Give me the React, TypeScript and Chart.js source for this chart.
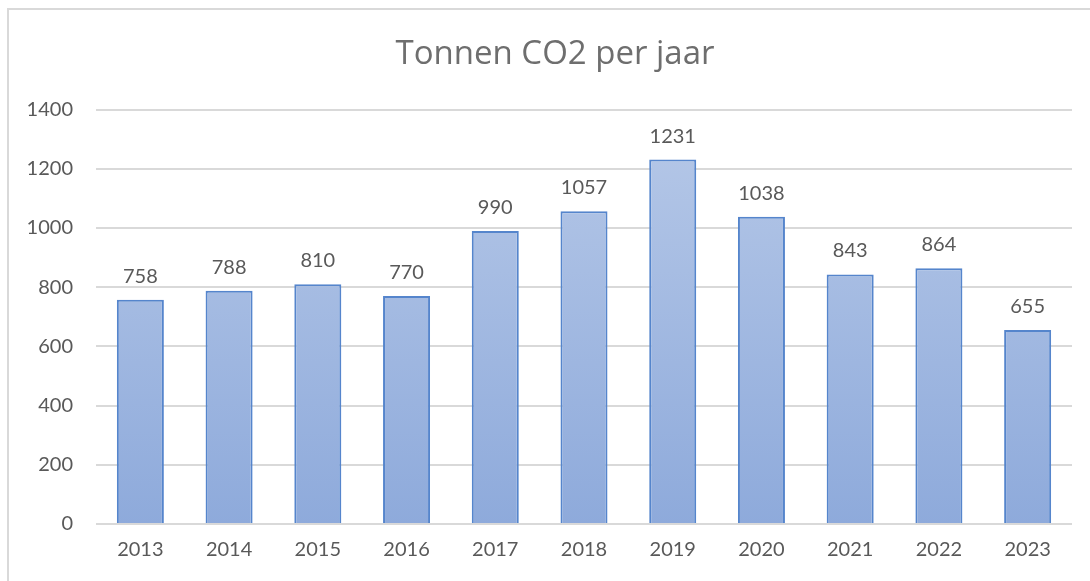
import React, { useEffect, useRef } from "react";
import { Chart, registerables } from "chart.js";

Chart.register(...registerables);

const TITLE = "Tonnen CO2 per jaar";
const YEARS = ["2013", "2014", "2015", "2016", "2017", "2018", "2019", "2020", "2021", "2022", "2023"];
const TONNES = [758, 788, 810, 770, 990, 1057, 1231, 1038, 843, 864, 655];
const Y_MIN = 0;
const Y_MAX = 1400;
const Y_STEP = 200;

const TEXT = "#595959";
const FONT = "Lato, 'Open Sans', sans-serif";
const TITLE_FONT = "'Open Sans', Lato, sans-serif";

const valueLabels = {
  id: "valueLabels",
  afterDatasetsDraw(chart: any) {
    const ctx = chart.ctx;
    const meta = chart.getDatasetMeta(0);
    const data = chart.data.datasets[0].data;
    ctx.save();
    ctx.font = `20px ${FONT}`;
    ctx.fillStyle = TEXT;
    ctx.textAlign = "center";
    ctx.textBaseline = "alphabetic";
    meta.data.forEach((bar: any, i: number) => {
      ctx.fillText(String(data[i]), bar.x, bar.y - 17);
    });
    ctx.restore();
  },
};

export default function App() {
  const ref = useRef<HTMLCanvasElement | null>(null);
  useEffect(() => {
    const canvas = ref.current!;
    const chart = new Chart(canvas, {
      type: "bar",
      data: {
        labels: YEARS,
        datasets: [
          {
            data: TONNES,
            yAxisID: "y",
            backgroundColor: (c: any) => {
              const area = c.chart.chartArea;
              if (!area) return "#a2b9e2";
              const g = c.chart.ctx.createLinearGradient(0, area.top, 0, area.bottom);
              g.addColorStop(0, "#b7c9e8");
              g.addColorStop(1, "#8eaadb");
              return g;
            },
            borderColor: "#5585cc",
            borderWidth: 2,
            barPercentage: 0.53,
            categoryPercentage: 1,
          },
        ],
      },
      options: {
        responsive: false,
        animation: false,
        layout: { padding: 0 },
        plugins: {
          legend: { display: false },
          tooltip: { enabled: false },
          title: {
            display: true,
            text: TITLE,
            color: "#6e6e6e",
            font: { family: TITLE_FONT, size: 33, weight: "normal" },
            padding: { top: 35, bottom: 35 },
          },
        },
        scales: {
          x: {
            grid: { display: false, drawTicks: false },
            border: { display: false },
            ticks: { color: TEXT, font: { family: FONT, size: 20 }, padding: 14 },
            afterFit: (s: any) => {
              s.height = 57;
            },
          },
          y: {
            min: Y_MIN,
            max: Y_MAX,
            ticks: {
              stepSize: Y_STEP,
              color: TEXT,
              font: { family: FONT, size: 20 },
              padding: 23,
              callback: (v: any) => String(v),
            },
            grid: { color: "#d9d9d9", lineWidth: 2, drawTicks: false },
            border: { display: false },
            afterFit: (s: any) => {
              s.width = 96;
            },
          },
          spacer: {
            type: "linear",
            position: "right",
            display: true,
            grid: { display: false, drawTicks: false },
            border: { display: false },
            ticks: { display: false },
            afterFit: (s: any) => {
              s.width = 38;
            },
          },
        },
      },
      plugins: [valueLabels],
    });
    return () => chart.destroy();
  }, []);

  return (
    <div style={{ position: "fixed", left: 0, top: 0, width: 1090, height: 581, background: "#fff", overflow: "hidden" }}>
      <div
        style={{
          position: "absolute",
          left: 7,
          top: 8,
          right: -10,
          bottom: -10,
          borderLeft: "2px solid #d9d9d9",
          borderTop: "2px solid #d9d9d9",
        }}
      />
      <canvas ref={ref} width={1110} height={581} style={{ position: "absolute", left: 0, top: 0 }} />
    </div>
  );
}
